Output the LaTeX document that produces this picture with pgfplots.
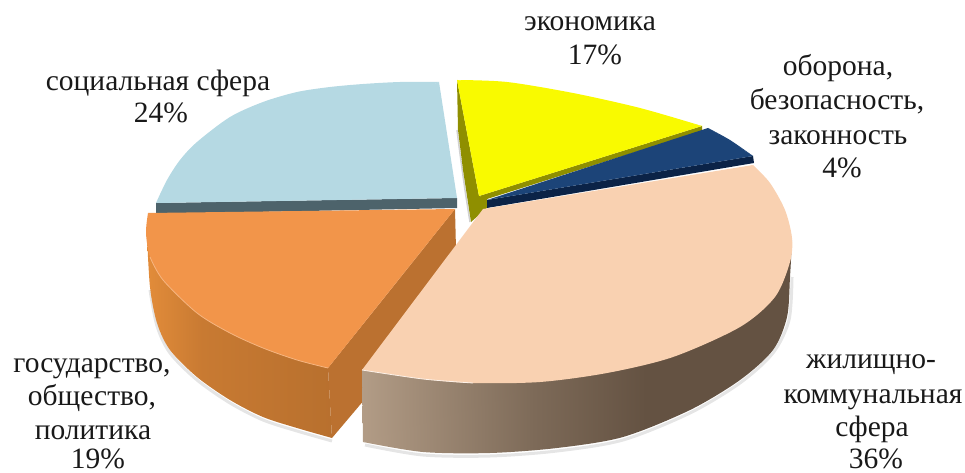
\documentclass[border=0pt]{standalone}
\usepackage{fontspec}
\setmainfont{Liberation Serif}
\usepackage{pgfplots}
\pgfplotsset{compat=1.18}
\definecolor{cBlue}{HTML}{B5D9E3}
\definecolor{cBlueS}{HTML}{4D636B}
\definecolor{cOrange}{HTML}{F2954A}
\definecolor{cOrangeS}{HTML}{BB7130}
\definecolor{cYellow}{HTML}{F9FA00}
\definecolor{cOlive}{HTML}{8F8F00}
\definecolor{cNavy}{HTML}{1C4478}
\definecolor{cNavyS}{HTML}{0B2347}
\definecolor{cPeach}{HTML}{F9D1B1}
\pgfdeclarehorizontalshading{peachside}{100bp}{color(0bp)=(rgb,255:red,178;green,156;blue,134); color(25bp)=(rgb,255:red,178;green,156;blue,134); color(45bp)=(rgb,255:red,125;green,106;blue,88); color(58bp)=(rgb,255:red,100;green,82;blue,66); color(100bp)=(rgb,255:red,100;green,82;blue,66)}
\pgfdeclarehorizontalshading{orangeside}{100bp}{color(0bp)=(rgb,255:red,226;green,140;blue,58); color(25bp)=(rgb,255:red,226;green,140;blue,58); color(40bp)=(rgb,255:red,200;green,122;blue,50); color(75bp)=(rgb,255:red,184;green,112;blue,46); color(100bp)=(rgb,255:red,184;green,112;blue,46)}
\begin{document}
\begin{tikzpicture}
\useasboundingbox (0,0) rectangle (965pt,473pt);
\begin{axis}[
  at={(0,0)}, anchor=south west,
  scale only axis, width=965pt, height=473pt,
  xmin=0, xmax=965, ymin=0, ymax=473, y dir=reverse,
  hide axis, clip=false,
  every axis plot/.append style={forget plot},
]
% soft shadow below the pieces
\addplot[smooth, draw=black!10, line width=3pt] coordinates {(150,290)(157,326)(170,353)(197,380)(230,403)(263,420)(297,431)(332,441)};
\addplot[smooth, draw=black!10, line width=3pt] coordinates {(365,445)(423,455)(490,456)(557,451)(623,440)(690,413)(740,383)(773,353)(789,320)(792,277)};
\addplot[smooth, draw=black!18, line width=1.5pt] coordinates {(457,130)(459.5,150)(465,190)(470,222)};
% social sphere
\addplot[fill=cBlueS, draw=none] coordinates {(156,203)(457,198)(457,208)(156,214)};
\addplot[smooth, fill=cBlue, draw=none] coordinates {(156,203)(167,180)(180,160)(197,142)(230,117)(263,102)(297,92)(330,87)(363,84)(400,82)(439,82)};
\addplot[fill=cBlue, draw=none] coordinates {(457,198)(156,203)(250,150)(439,82)};
% state, society, politics
\addplot[smooth, draw=none, shade, shading=orangeside] coordinates {(147,235)(150,287)(157,323)(170,350)(197,377)(230,400)(263,417)(297,428)(332,438)};
\addplot[draw=none, shade, shading=orangeside] coordinates {(147,235)(200,340)(332,438)(328,368)};
\addplot[fill=cOrangeS, draw=none] coordinates {(455,209)(328,368)(332,438)(457,290)};
\addplot[smooth, fill=cOrange, draw=none] coordinates {(148,213)(146,233)(150,257)(163,280)(197,313)(230,333)(263,348)(297,360)(328,368)};
\addplot[fill=cOrange, draw=none] coordinates {(455,209)(148,213)(230,310)(328,368)};
\addplot[smooth, draw=cOrange!70!white, line width=0.8pt] coordinates {(150,257)(163,280)(197,313)(230,333)(263,348)(297,360)(328,368)};
% economy
\addplot[fill=cOlive, draw=none] coordinates {(457,80)(458,130)(463,170)(471,222)(487,208)(487,198)(479,196)};
\addplot[fill=cOlive, draw=none] coordinates {(479,196)(702,126)(702,131)(487,199)};
\addplot[smooth, fill=cYellow, draw=none] coordinates {(457,80)(507,82)(573,93)(640,108)(702,126)};
\addplot[fill=cYellow, draw=none] coordinates {(479,196)(457,80)(580,98)(702,126)};
% defence
\addplot[fill=cNavyS, draw=none] coordinates {(487,200)(753,156)(754,163)(487,208)};
\addplot[smooth, fill=cNavy, draw=none] coordinates {(708,128)(730,140)(753,156)};
\addplot[fill=cNavy, draw=none] coordinates {(487,200)(708,128)(730,141)(753,156)};
% housing
\addplot[smooth, draw=none, shade, shading=peachside] coordinates {(363,442)(423,452)(490,453)(557,448)(623,437)(690,410)(740,380)(773,350)(787,317)(790,277)(792,240)};
\addplot[draw=none, shade, shading=peachside] coordinates {(362,370)(363,442)(500,400)(792,240)};
\addplot[smooth, fill=cPeach, draw=none] coordinates {(753,165)(770,183)(785,210)(792,238)(790,262)(775,297)(740,327)(673,357)(607,373)(540,382)(473,383)(423,379)(362,370)};
\addplot[fill=cPeach, draw=none] coordinates {(483,209)(753,165)(600,300)(362,370)};
\addplot[smooth, draw=white!70!cPeach, line width=0.8pt] coordinates {(362,370)(423,379)(473,383)};
% labels
\def\lab#1#2#3{\node[anchor=base, inner sep=0pt, font=\fontsize{29.5}{29.5}\selectfont, text=black!90] at (axis cs:#1,#2) {#3};}
\lab{590}{31}{экономика}
\lab{595}{65}{17\%}
\lab{838}{76}{оборона,}
\lab{837}{110}{безопасность,}
\lab{838}{145}{законность}
\lab{842}{177}{4\%}
\lab{158}{91}{социальная сфера}
\lab{161}{123}{24\%}
\lab{92}{372}{государство,}
\lab{92}{405}{общество,}
\lab{93}{439}{политика}
\lab{98}{468}{19\%}
\lab{871}{368}{жилищно-}
\lab{873}{403}{коммунальная}
\lab{872}{436}{сфера}
\lab{876}{468}{36\%}
\end{axis}
\end{tikzpicture}
\end{document}
